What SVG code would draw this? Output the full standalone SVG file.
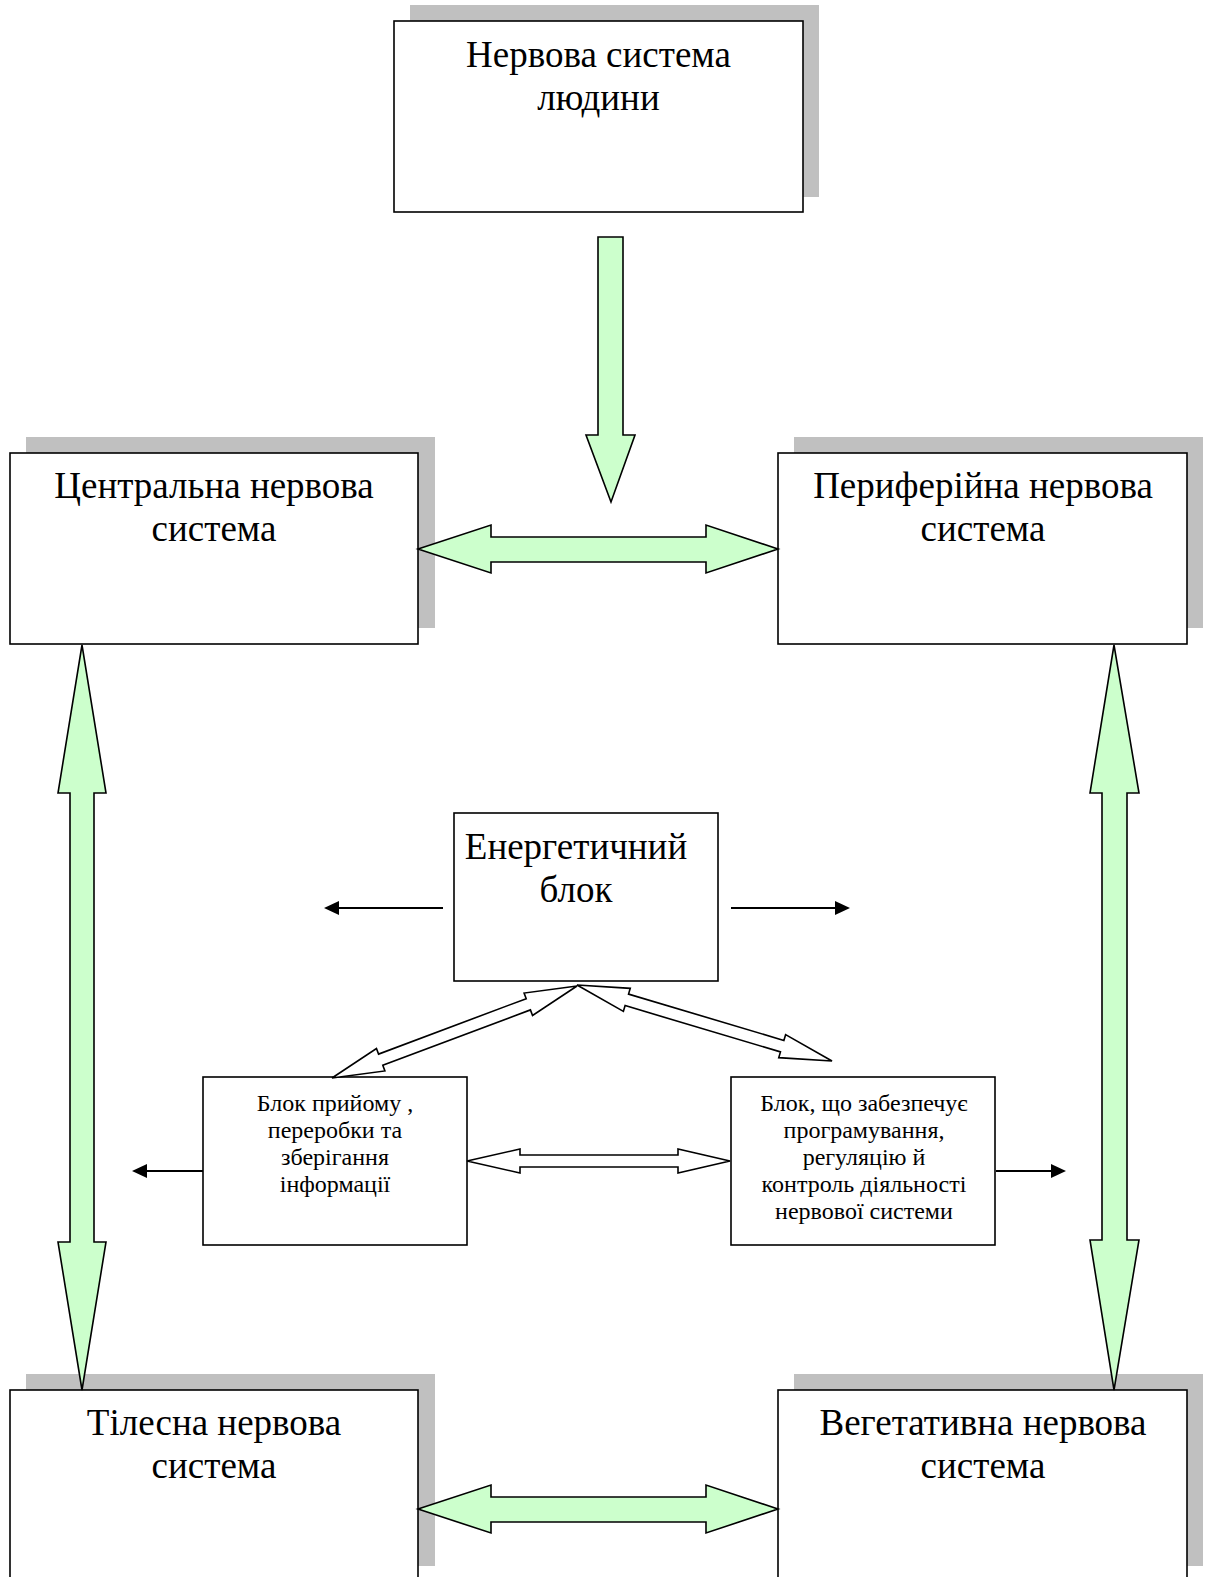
<svg xmlns="http://www.w3.org/2000/svg" width="1206" height="1577" viewBox="0 0 1206 1577">
<style>
.shadow{fill:#C0C0C0;stroke:none}
.box{fill:#FFFFFF;stroke:#000000;stroke-width:1.6}
.big{font-family:"Liberation Serif","Times New Roman",serif;font-size:37px;fill:#000000;text-anchor:middle}
.small{font-family:"Liberation Serif","Times New Roman",serif;font-size:24px;fill:#000000;text-anchor:middle}
.green{fill:#CCFFCC;stroke:#000000;stroke-width:1.6;stroke-linejoin:miter}
.hollow{fill:#FFFFFF;stroke:#000000;stroke-width:1.6;stroke-linejoin:miter}
.thin{stroke:#000000;stroke-width:2;fill:none}
</style>
<defs>
<marker id="ah" viewBox="0 0 15 14" refX="13" refY="7" markerWidth="15" markerHeight="14" markerUnits="userSpaceOnUse" orient="auto">
<path d="M0,0 L15,7 L0,14 Z" fill="#000000"/>
</marker>
</defs>
<rect width="1206" height="1577" fill="#FFFFFF"/>

<g id="node-nervova-systema">
<rect class="shadow" x="410" y="5" width="409" height="192"/>
<rect class="box" x="394" y="21" width="409" height="191"/>
<text class="big" x="598.5" y="67">Нервова система</text>
<text class="big" x="598.5" y="110">людини</text>
</g>

<g id="node-centralna">
<rect class="shadow" x="26" y="437" width="409" height="191"/>
<rect class="box" x="10" y="453" width="408" height="191"/>
<text class="big" x="214" y="498">Центральна нервова</text>
<text class="big" x="214" y="541">система</text>
</g>

<g id="node-peryferiina">
<rect class="shadow" x="794" y="437" width="409" height="191"/>
<rect class="box" x="778" y="453" width="409" height="191"/>
<text class="big" x="983" y="498">Периферійна нервова</text>
<text class="big" x="983" y="541">система</text>
</g>

<g id="node-tilesna">
<rect class="shadow" x="26" y="1374" width="409" height="192"/>
<rect class="box" x="10" y="1390" width="408" height="200"/>
<text class="big" x="214" y="1435">Тілесна нервова</text>
<text class="big" x="214" y="1478">система</text>
</g>

<g id="node-vehetatyvna">
<rect class="shadow" x="794" y="1374" width="409" height="192"/>
<rect class="box" x="778" y="1390" width="409" height="200"/>
<text class="big" x="983" y="1435">Вегетативна нервова</text>
<text class="big" x="983" y="1478">система</text>
</g>

<g id="node-enerhetychnyi">
<rect class="box" x="454" y="813" width="264" height="168"/>
<text class="big" x="576" y="859">Енергетичний</text>
<text class="big" x="576" y="902">блок</text>
</g>

<g id="node-blok-pryiomu">
<rect class="box" x="203" y="1077" width="264" height="168"/>
<text class="small" x="335" y="1111">Блок прийому ,</text>
<text class="small" x="335" y="1138">переробки та</text>
<text class="small" x="335" y="1165">зберігання</text>
<text class="small" x="335" y="1192">інформації</text>
</g>

<g id="node-blok-prohramuvannia">
<rect class="box" x="731" y="1077" width="264" height="168"/>
<text class="small" x="864" y="1111">Блок, що забезпечує</text>
<text class="small" x="864" y="1138">програмування,</text>
<text class="small" x="864" y="1165">регуляцію й</text>
<text class="small" x="864" y="1192">контроль діяльності</text>
<text class="small" x="864" y="1219">нервової системи</text>
</g>

<g id="connectors">
<polygon class="green" points="598,237 623,237 623,435 635,435 611,502 586,435 598,435"/>
<polygon class="green" points="418,549 491,525 491,537 706,537 706,525 778,549 706,573 706,562 491,562 491,573"/>
<polygon class="green" points="418,1509 491,1485 491,1497 706,1497 706,1485 778,1509 706,1533 706,1522 491,1522 491,1533"/>
<polygon class="green" points="82,645 106,793 94,793 94,1242 106,1242 82,1390 58,1242 70,1242 70,793 58,793"/>
<polygon class="green" points="1114,645 1139,793 1127,793 1127,1240 1139,1240 1114,1390 1090,1240 1102,1240 1102,793 1090,793"/>
<polygon class="hollow" points="332,1078 384.9,1070.95 382.79,1065.34 530.43,1009.9 532.54,1015.51 577,986 524.1,993.05 526.21,998.66 378.57,1054.1 376.46,1048.49"/>
<polygon class="hollow" points="577,985 623.4,1011.35 625.12,1005.6 780.46,1051.9 778.74,1057.65 832,1061 785.6,1034.65 783.88,1040.4 628.54,994.1 630.26,988.35"/>
<polygon class="hollow" points="467,1161 520,1149 520,1155 678,1155 678,1149 730,1161 678,1173 678,1167 520,1167 520,1173"/>
<line class="thin" x1="443" y1="908" x2="326" y2="908" marker-end="url(#ah)"/>
<line class="thin" x1="731" y1="908" x2="848" y2="908" marker-end="url(#ah)"/>
<line class="thin" x1="203" y1="1171" x2="134" y2="1171" marker-end="url(#ah)"/>
<line class="thin" x1="996" y1="1171" x2="1064" y2="1171" marker-end="url(#ah)"/>
</g>
</svg>
